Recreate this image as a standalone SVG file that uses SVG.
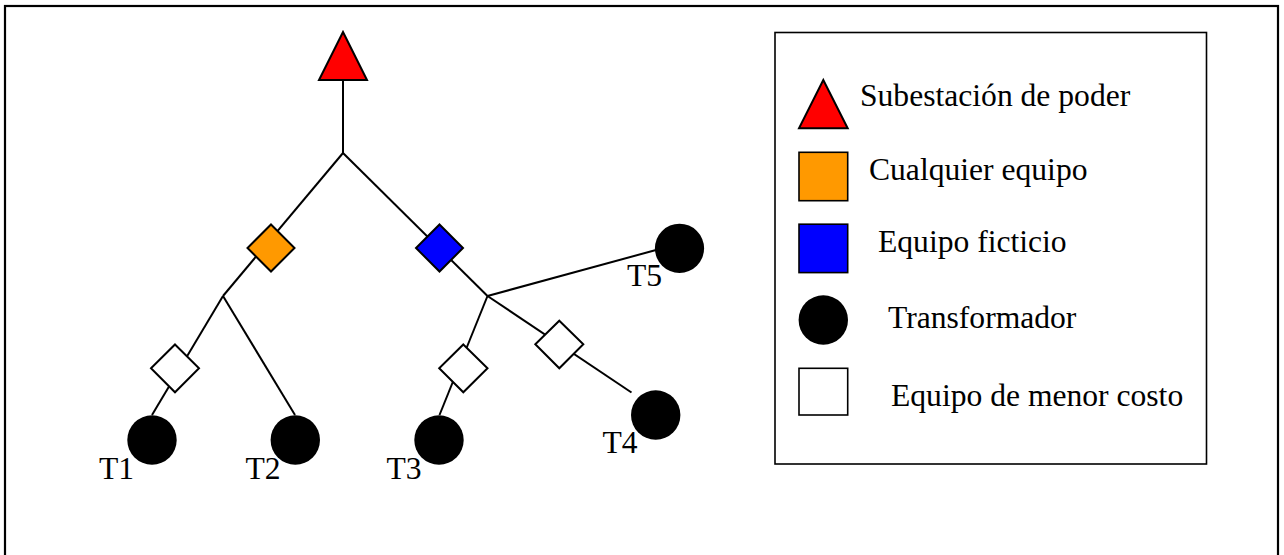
<svg xmlns="http://www.w3.org/2000/svg" width="1284" height="555" viewBox="0 0 1284 555">
<style>
.ln{stroke:#000;stroke-width:2;fill:none}
.sh{stroke:#000;stroke-width:2}
.tx{font-family:"Liberation Serif","Times New Roman",serif;font-size:31.6px;fill:#000}
</style>
<rect x="0" y="0" width="1284" height="555" fill="#fff"/>
<rect x="5" y="6" width="1273" height="565" fill="none" stroke="#000" stroke-width="2.2"/>
<g id="connectors">
<line class="ln" x1="343" y1="80" x2="343" y2="153"/>
<line class="ln" x1="343" y1="153" x2="223" y2="296"/>
<line class="ln" x1="343" y1="153" x2="487.5" y2="296"/>
<line class="ln" x1="223" y1="296" x2="152" y2="415"/>
<line class="ln" x1="223" y1="296" x2="295" y2="415"/>
<line class="ln" x1="487.5" y1="296" x2="439.5" y2="415"/>
<line class="ln" x1="487.5" y1="296" x2="631.5" y2="392.5"/>
<line class="ln" x1="487.5" y1="296" x2="656" y2="250"/>
</g>
<g id="substation">
<polygon class="sh" fill="#ff0000" points="343,32 367,80 319,80"/>
</g>
<g id="equipo-cualquiera">
<polygon class="sh" fill="#ff9900" points="271,224.5 294.5,248 271,271.5 247.5,248"/>
</g>
<g id="equipo-ficticio">
<polygon class="sh" fill="#0000ff" points="439.5,224.5 463,248 439.5,271.5 416,248"/>
</g>
<g id="menor-costo-1">
<polygon class="sh" fill="#fff" points="175,344.5 199,368.3 175,392.3 151,368.3"/>
</g>
<g id="menor-costo-3">
<polygon class="sh" fill="#fff" points="463.3,344.5 487.5,368.3 463.3,392.3 439.2,368.3"/>
</g>
<g id="menor-costo-4">
<polygon class="sh" fill="#fff" points="559.3,320.7 583.3,344.3 559.3,368.3 535.3,344.3"/>
</g>
<g id="T1">
<circle cx="152" cy="440" r="24.7" fill="#000"/>
<text class="tx" x="99" y="479">T1</text>
</g>
<g id="T2">
<circle cx="295.3" cy="440" r="24.7" fill="#000"/>
<text class="tx" x="245.5" y="479">T2</text>
</g>
<g id="T3">
<circle cx="439" cy="440" r="24.7" fill="#000"/>
<text class="tx" x="386.5" y="478.5">T3</text>
</g>
<g id="T4">
<circle cx="655.7" cy="415" r="24.7" fill="#000"/>
<text class="tx" x="602.5" y="452.5">T4</text>
</g>
<g id="T5">
<circle cx="679.5" cy="248.3" r="24.6" fill="#000"/>
<text class="tx" x="627" y="286">T5</text>
</g>
<g id="legend">
<rect x="775" y="32.5" width="431.5" height="431.5" fill="#fff" stroke="#000" stroke-width="1.6"/>
<polygon class="sh" fill="#ff0000" points="823.3,80 847.7,128.3 799,128.3" stroke-width="1.6"/>
<text class="tx" x="860" y="106">Subestación de poder</text>
<rect x="799" y="152.3" width="48.7" height="48.4" fill="#ff9900" stroke="#000" stroke-width="1.6"/>
<text class="tx" x="869" y="180">Cualquier equipo</text>
<rect x="799" y="224.2" width="48.7" height="48.4" fill="#0000ff" stroke="#000" stroke-width="1.6"/>
<text class="tx" x="878" y="252.3">Equipo ficticio</text>
<circle cx="823.3" cy="320" r="24.7" fill="#000"/>
<text class="tx" x="888" y="328.3">Transformador</text>
<rect x="799" y="368.3" width="48.7" height="46.7" fill="#fff" stroke="#000" stroke-width="1.6"/>
<text class="tx" x="891" y="405.7">Equipo de menor costo</text>
</g>
</svg>
